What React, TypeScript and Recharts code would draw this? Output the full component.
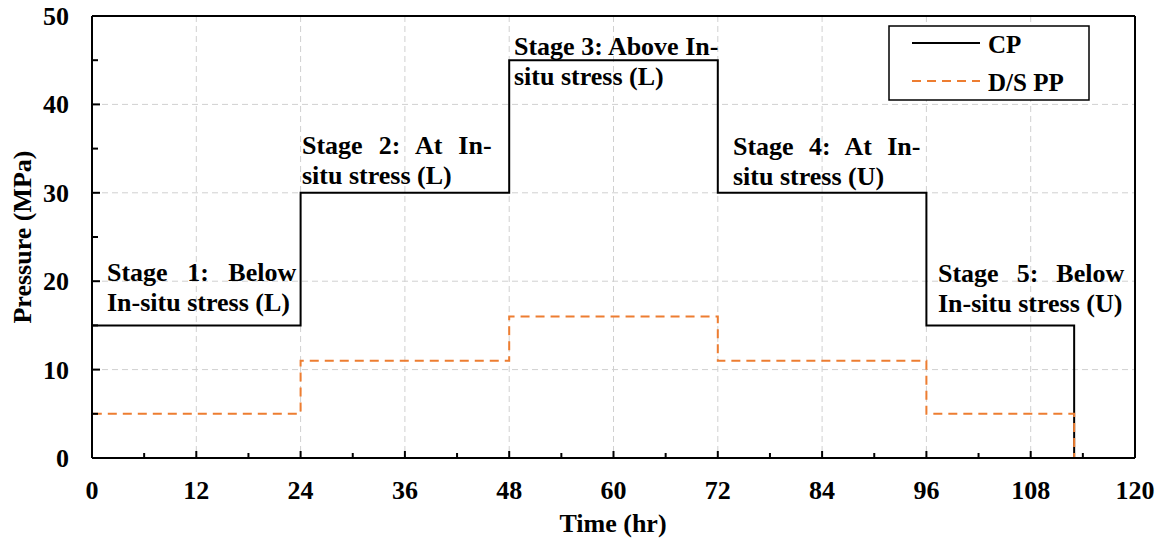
import { CartesianGrid, Line, LineChart, ReferenceLine, XAxis, YAxis } from "recharts";

// step points (hr) and pressures (MPa)
const TIME = [0, 0, 24, 48, 72, 96, 113];
const CP = [0, 15, 30, 45, 30, 15, 0];
const DS_PP = [0, 5, 11, 16, 11, 5, 0];

const X_MAJOR = [0, 12, 24, 36, 48, 60, 72, 84, 96, 108, 120];
const X_MINOR = [6, 18, 30, 42, 54, 66, 78, 90, 102, 114];
const Y_MAJOR = [0, 10, 20, 30, 40, 50];
const Y_MINOR = [5, 15, 25, 35, 45];

const STAGES = [
  { lines: ["Stage 1: Below", "In-situ stress (L)"], x: 107, y: 281, spacing: 13 },
  { lines: ["Stage 2: At In-", "situ stress (L)"], x: 302, y: 154, spacing: 9.5 },
  { lines: ["Stage 3: Above In-", "situ stress (L)"], x: 514, y: 55, spacing: 0 },
  { lines: ["Stage 4: At In-", "situ stress (U)"], x: 733, y: 155, spacing: 8.8 },
  { lines: ["Stage 5: Below", "In-situ stress (U)"], x: 938, y: 282, spacing: 11.5 },
];

const data = TIME.map((t, i) => ({ t, cp: CP[i], pp: DS_PP[i] }));

const W = 1159;
const H = 541;
const FONT = "'Liberation Serif', 'Times New Roman', serif";
const ORANGE = "#ED7D31";

function XTick(props: any) {
  const { x, y, payload } = props;
  const major = X_MAJOR.includes(payload.value);
  return (
    <g>
      <line x1={x} x2={x} y1={y} y2={y - (major ? 7 : 5)} stroke="#000" strokeWidth={2} />
      {major && (
        <text x={x} y={y + 41} textAnchor="middle" fontFamily={FONT} fontWeight="bold" fontSize={26} fill="#000">
          {payload.value}
        </text>
      )}
    </g>
  );
}

function YTick(props: any) {
  const { x, y, payload } = props;
  const major = Y_MAJOR.includes(payload.value);
  return (
    <g>
      <line x1={x} x2={x + (major ? 8 : 6)} y1={y} y2={y} stroke="#000" strokeWidth={2} />
      {major && (
        <text x={x - 23} y={y + 9} textAnchor="end" fontFamily={FONT} fontWeight="bold" fontSize={26} fill="#000">
          {payload.value}
        </text>
      )}
    </g>
  );
}

export default function App() {
  return (
    <div style={{ position: "absolute", left: 0, top: 0, width: W, height: H, background: "#fff" }}>
      <LineChart width={W} height={H} data={data} margin={{ top: 16, right: 24, left: 32, bottom: 43 }}>
        <CartesianGrid
          stroke="#d0d0d0"
          strokeDasharray="6 4"
          horizontalValues={[10, 20, 30, 40]}
          verticalValues={[12, 24, 36, 48, 60, 72, 84, 96, 108]}
        />
        <XAxis
          dataKey="t"
          type="number"
          domain={[0, 120]}
          ticks={[...X_MAJOR, ...X_MINOR].sort((a, b) => a - b)}
          interval={0}
          tick={<XTick />}
          tickLine={false}
          tickSize={0}
          tickMargin={0}
          height={40}
          axisLine={{ stroke: "#000", strokeWidth: 2 }}
        />
        <YAxis
          type="number"
          domain={[0, 50]}
          ticks={[...Y_MAJOR, ...Y_MINOR].sort((a, b) => a - b)}
          interval={0}
          tick={<YTick />}
          tickLine={false}
          tickSize={0}
          tickMargin={0}
          width={60}
          axisLine={{ stroke: "#000", strokeWidth: 2 }}
        />
        <ReferenceLine y={50} stroke="#000" strokeWidth={2} />
        <ReferenceLine x={120} stroke="#000" strokeWidth={2} />
        <Line
          dataKey="cp"
          type="stepAfter"
          stroke="#000"
          strokeWidth={2}
          dot={false}
          isAnimationActive={false}
        />
        <Line
          dataKey="pp"
          type="stepAfter"
          stroke={ORANGE}
          strokeWidth={2}
          strokeDasharray="9 6"
          dot={false}
          isAnimationActive={false}
        />
      </LineChart>
      <svg
        width={W}
        height={H}
        style={{ position: "absolute", left: 0, top: 0, pointerEvents: "none" }}
        fontFamily={FONT}
        fontWeight="bold"
        fontSize={26}
      >
        {STAGES.map((s, i) => (
          <g key={i}>
            <text x={s.x} y={s.y} style={{ wordSpacing: `${s.spacing}px` }}>
              {s.lines[0]}
            </text>
            <text x={s.x} y={s.y + 30}>
              {s.lines[1]}
            </text>
          </g>
        ))}
        {/* legend */}
        <rect x={889} y={26} width={200} height={74} fill="#fff" stroke="#000" strokeWidth={1.5} />
        <line x1={912} x2={980} y1={43} y2={43} stroke="#000" strokeWidth={2} />
        <text x={988} y={53} fontSize={25}>CP</text>
        <line x1={912} x2={980} y1={81} y2={81} stroke={ORANGE} strokeWidth={2} strokeDasharray="9 6" />
        <text x={988} y={91} fontSize={25}>D/S PP</text>
        {/* axis titles */}
        <text x={613} y={532} textAnchor="middle">Time (hr)</text>
        <text x={31} y={237} textAnchor="middle" transform="rotate(-90 31 237)">Pressure (MPa)</text>
      </svg>
    </div>
  );
}
